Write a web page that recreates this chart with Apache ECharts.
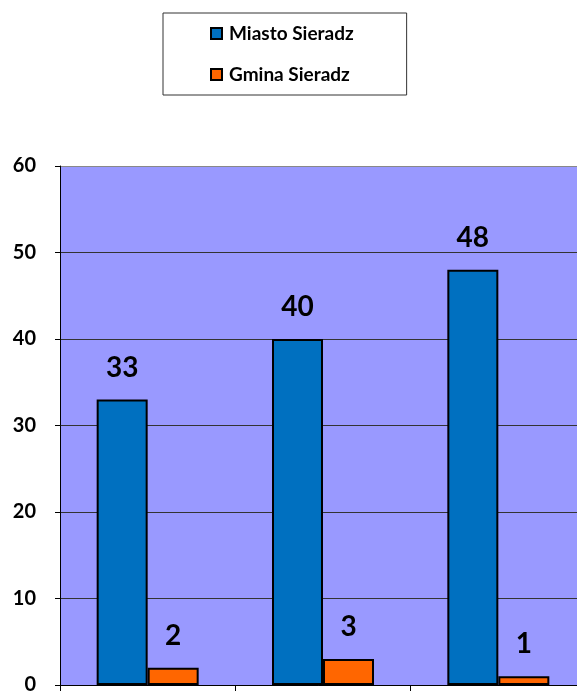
<!DOCTYPE html>
<html>
<head>
<meta charset="utf-8">
<script src="https://cdn.jsdelivr.net/npm/echarts@6/dist/echarts.min.js"></script>
<style>
  html, body { margin: 0; padding: 0; background: #fff; }
  #chart { width: 577px; height: 691px; }
</style>
</head>
<body>
<div id="chart"></div>
<script>
const categories = ['A', 'B', 'C']
const miasto = [33, 40, 48]
const gmina = [2, 3, 1]
const seriesNames = ['Miasto Sieradz', 'Gmina Sieradz']

const font = 'Lato, "Liberation Sans", sans-serif'
const chart = echarts.init(document.getElementById('chart'))

const labelStyle = {
  show: true,
  position: 'top',
  distance: 18,
  color: '#000',
  fontFamily: font,
  fontWeight: 'bold',
  fontSize: 28,
}

chart.setOption({
  animation: false,
  legend: {
    orient: 'vertical',
    left: 163,
    top: 13,
    padding: [11, 53, 11, 47],
    itemGap: 22,
    itemWidth: 11,
    itemHeight: 11,
    icon: 'rect',
    borderColor: '#333',
    borderWidth: 1,
    textStyle: { fontFamily: font, fontWeight: 'bold', fontSize: 19, color: '#000', padding: [0, 0, 0, 2] },
    data: seriesNames,
  },
  grid: {
    left: 60,
    top: 166,
    right: -9,
    bottom: 6,
    outerBoundsMode: 'none',
    containLabel: false,
    show: true,
    backgroundColor: '#9999FF',
    borderWidth: 0,
  },
  xAxis: {
    type: 'category',
    data: categories,
    axisLine: { lineStyle: { color: '#000', width: 1 } },
    axisTick: { show: true, length: 6, lineStyle: { color: '#000' } },
    axisLabel: { show: false },
  },
  yAxis: {
    type: 'value',
    min: 0,
    max: 60,
    interval: 10,
    axisLine: { show: true, lineStyle: { color: '#000', width: 1 } },
    axisTick: { show: true, length: 5, lineStyle: { color: '#000' } },
    axisLabel: { margin: 24, color: '#000', fontFamily: font, fontWeight: 'bold', fontSize: 20 },
    splitLine: {
      show: true,
      lineStyle: { color: ['#333', '#333', '#333', '#333', '#333', '#333', '#888'], width: 1 },
    },
  },
  series: [
    {
      name: seriesNames[0],
      type: 'bar',
      data: miasto,
      barWidth: 51,
      barGap: '0%',
      itemStyle: { color: '#0070C0', borderColor: '#000', borderWidth: 2 },
      label: labelStyle,
    },
    {
      name: seriesNames[1],
      type: 'bar',
      data: gmina,
      barWidth: 51,
      barGap: '0%',
      itemStyle: { color: '#FF6600', borderColor: '#000', borderWidth: 2 },
      label: labelStyle,
    },
  ],
})
</script>
</body>
</html>
